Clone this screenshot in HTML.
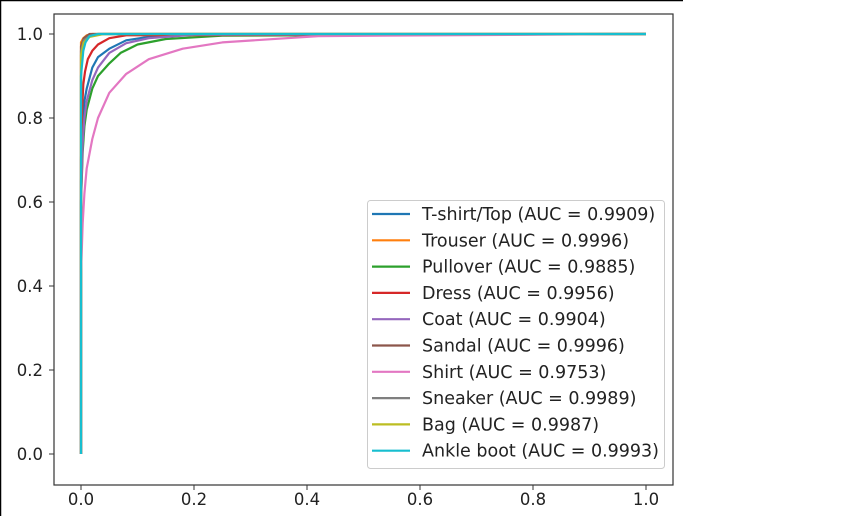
<!DOCTYPE html>
<html><head><meta charset="utf-8"><style>
html,body{margin:0;padding:0;background:#fff;width:855px;height:516px;overflow:hidden}
svg{display:block;font-family:"DejaVu Sans","Liberation Sans",sans-serif}
</style></head><body>
<svg id="chart" width="855" height="516">
<line x1="0" y1="0.5" x2="683" y2="0.5" stroke="#000" stroke-width="1.5"/>
<line x1="0.5" y1="0" x2="0.5" y2="516" stroke="#000" stroke-width="1.5"/>
<rect x="54" y="14" width="619" height="471" fill="#fff"/>
<g id="lines"></g>
<rect x="54" y="14" width="619" height="471" fill="none" stroke="#333" stroke-width="1.2"/>
<g id="axes"></g>
<g id="legend"></g>
</svg>
<script>
const classNames = ["T-shirt/Top","Trouser","Pullover","Dress","Coat","Sandal","Shirt","Sneaker","Bag","Ankle boot"];
const aucValues = ["0.9909","0.9996","0.9885","0.9956","0.9904","0.9996","0.9753","0.9989","0.9987","0.9993"];
const colors = ["#1f77b4","#ff7f0e","#2ca02c","#d62728","#9467bd","#8c564b","#e377c2","#7f7f7f","#bcbd22","#17becf"];
const xTicks = [0,0.2,0.4,0.6,0.8,1.0];
const yTicks = [0,0.2,0.4,0.6,0.8,1.0];
const fpr0 = [0,0,0.003,0.006,0.01,0.02,0.03,0.05,0.08,0.12,0.2,1];
const tpr0 = [0,0.65,0.78,0.84,0.87,0.92,0.945,0.965,0.985,0.993,0.998,1];
const fpr1 = [0,0,0.004,0.01,0.02,1];
const tpr1 = [0,0.98,0.99,0.997,1,1];
const fpr2 = [0,0,0.003,0.006,0.01,0.02,0.03,0.05,0.07,0.1,0.15,0.25,1];
const tpr2 = [0,0.6,0.72,0.78,0.82,0.87,0.9,0.93,0.955,0.975,0.988,0.996,1];
const fpr3 = [0,0,0.002,0.004,0.007,0.012,0.02,0.03,0.05,0.08,1];
const tpr3 = [0,0.7,0.82,0.88,0.91,0.94,0.96,0.975,0.99,0.997,1];
const fpr4 = [0,0,0.003,0.006,0.01,0.02,0.03,0.05,0.08,0.12,0.2,1];
const tpr4 = [0,0.6,0.74,0.8,0.84,0.89,0.92,0.955,0.978,0.99,0.998,1];
const fpr5 = [0,0,0.005,0.015,1];
const tpr5 = [0,0.97,0.99,1,1];
const fpr6 = [0,0,0.003,0.006,0.01,0.02,0.03,0.05,0.08,0.12,0.18,0.25,0.42,1];
const tpr6 = [0,0.43,0.55,0.62,0.68,0.75,0.8,0.86,0.905,0.94,0.965,0.98,0.995,1];
const fpr7 = [0,0,0.005,0.015,0.03,1];
const tpr7 = [0,0.96,0.985,0.995,1,1];
const fpr8 = [0,0,0.005,0.015,0.04,1];
const tpr8 = [0,0.95,0.98,0.993,1,1];
const fpr9 = [0,0,0.004,0.008,0.015,0.03,1];
const tpr9 = [0,0.9,0.96,0.98,0.995,1,1];
const fprs=[fpr0,fpr1,fpr2,fpr3,fpr4,fpr5,fpr6,fpr7,fpr8,fpr9];
const tprs=[tpr0,tpr1,tpr2,tpr3,tpr4,tpr5,tpr6,tpr7,tpr8,tpr9];

const NS="http://www.w3.org/2000/svg";
const X=v=>81+v*565, Y=v=>454-v*420;
function mk(t,a,p){const e=document.createElementNS(NS,t);for(const k in a)e.setAttribute(k,a[k]);p.appendChild(e);return e;}
const lines=document.getElementById('lines'),axes=document.getElementById('axes'),legend=document.getElementById('legend');
for(let i=0;i<classNames.length;i++){
  const pts=fprs[i].map((f,j)=>X(f).toFixed(1)+','+Y(tprs[i][j]).toFixed(1)).join(' ');
  const pl=mk('polyline',{points:pts,fill:'none',stroke:colors[i],'stroke-width':2.2,'stroke-linejoin':'round'},lines);
  
  
}
xTicks.forEach(v=>{
  const l=mk('line',{x1:X(v),x2:X(v),y1:485,y2:490,stroke:'#333'},axes);
  
  
  const t=mk('text',{x:X(v),y:505,'text-anchor':'middle','font-size':16.5,fill:'#222'},axes);
  t.textContent=v.toFixed(1);
  
  
});
yTicks.forEach(v=>{
  const l=mk('line',{x1:49,x2:54,y1:Y(v),y2:Y(v),stroke:'#333'},axes);
  
  
  const t=mk('text',{x:43,y:Y(v)+6,'text-anchor':'end','font-size':16.5,fill:'#222'},axes);
  t.textContent=v.toFixed(1);
  
  
});
const box=mk('rect',{x:367.5,y:200.5,width:297,height:268,rx:3,fill:'#fff','fill-opacity':0.8,stroke:'#ccc'},legend);


for(let i=0;i<classNames.length;i++){
  const y=214+i*26.3;
  const g=mk('g',{},legend);
  
  
  mk('line',{x1:372,x2:410,y1:y,y2:y,stroke:colors[i],'stroke-width':2.2},g);
  const t=mk('text',{x:422,y:y+6,'font-size':17.5,fill:'#222'},g);
  t.textContent=classNames[i]+' (AUC = '+aucValues[i]+')';
}
</script>
</body></html>
